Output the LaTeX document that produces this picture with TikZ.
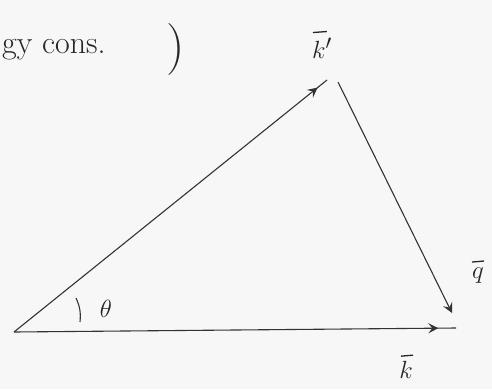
\documentclass[tikz,border=0pt]{standalone}
\usetikzlibrary{arrows.meta,decorations.markings,calc}
\begin{document}
\begin{tikzpicture}[x=1pt,y=-1pt,
  pen/.style={line width=1.1pt,color=black!80},
  barstroke/.style={line width=1.3pt,color=black!85},
  tip/.style={-{Stealth[length=10pt,width=10pt,inset=4pt]}},
  lbl/.style={font=\fontsize{32}{36}\selectfont,color=black!85,inner sep=0pt}]
\useasboundingbox (0,0) rectangle (492,389);
\fill[black!3] (0,0) rectangle (492,389);
\coordinate (O) at (14,332);
\coordinate (A) at (327,80);
\coordinate (B) at (338,82);
\coordinate (Q) at (452,313);
\coordinate (E) at (456,328);
\draw[pen,postaction={decorate},decoration={markings,mark=at position 0.97 with {\arrow{Stealth[length=10pt,width=10pt,inset=4pt]}}}] (O) -- (A);
\draw[pen,tip] (B) -- (Q);
\draw[pen,postaction={decorate},decoration={markings,mark=at position 0.96 with {\arrow{Stealth[length=10pt,width=10pt,inset=4pt]}}}] (O) -- (E);
\draw[pen] (76,298) to[bend left=15] (80,322);
\node[lbl] (th) at (106,309) {$\theta$};
\node[lbl] (kp) at (322,48) {$k'$};
\node[lbl] (q) at (478,276) {$q$};
\node[lbl] (k) at (406,370) {$k$};
\draw[barstroke] ($(kp.north west)+(1,-5)$) -- ($(kp.north west)+(15,-6)$);
\draw[barstroke] ($(q.north)+(-6,-6)$) -- ($(q.north)+(6,-7)$);
\draw[barstroke] ($(k.north)+(-5,-5)$) -- ($(k.north)+(7,-6)$);
\node[lbl,anchor=west] (t) at (2,50) {gy cons.};
\node[lbl,font=\fontsize{52}{56}\selectfont] (p) at (176,50) {)};
\end{tikzpicture}
\end{document}
